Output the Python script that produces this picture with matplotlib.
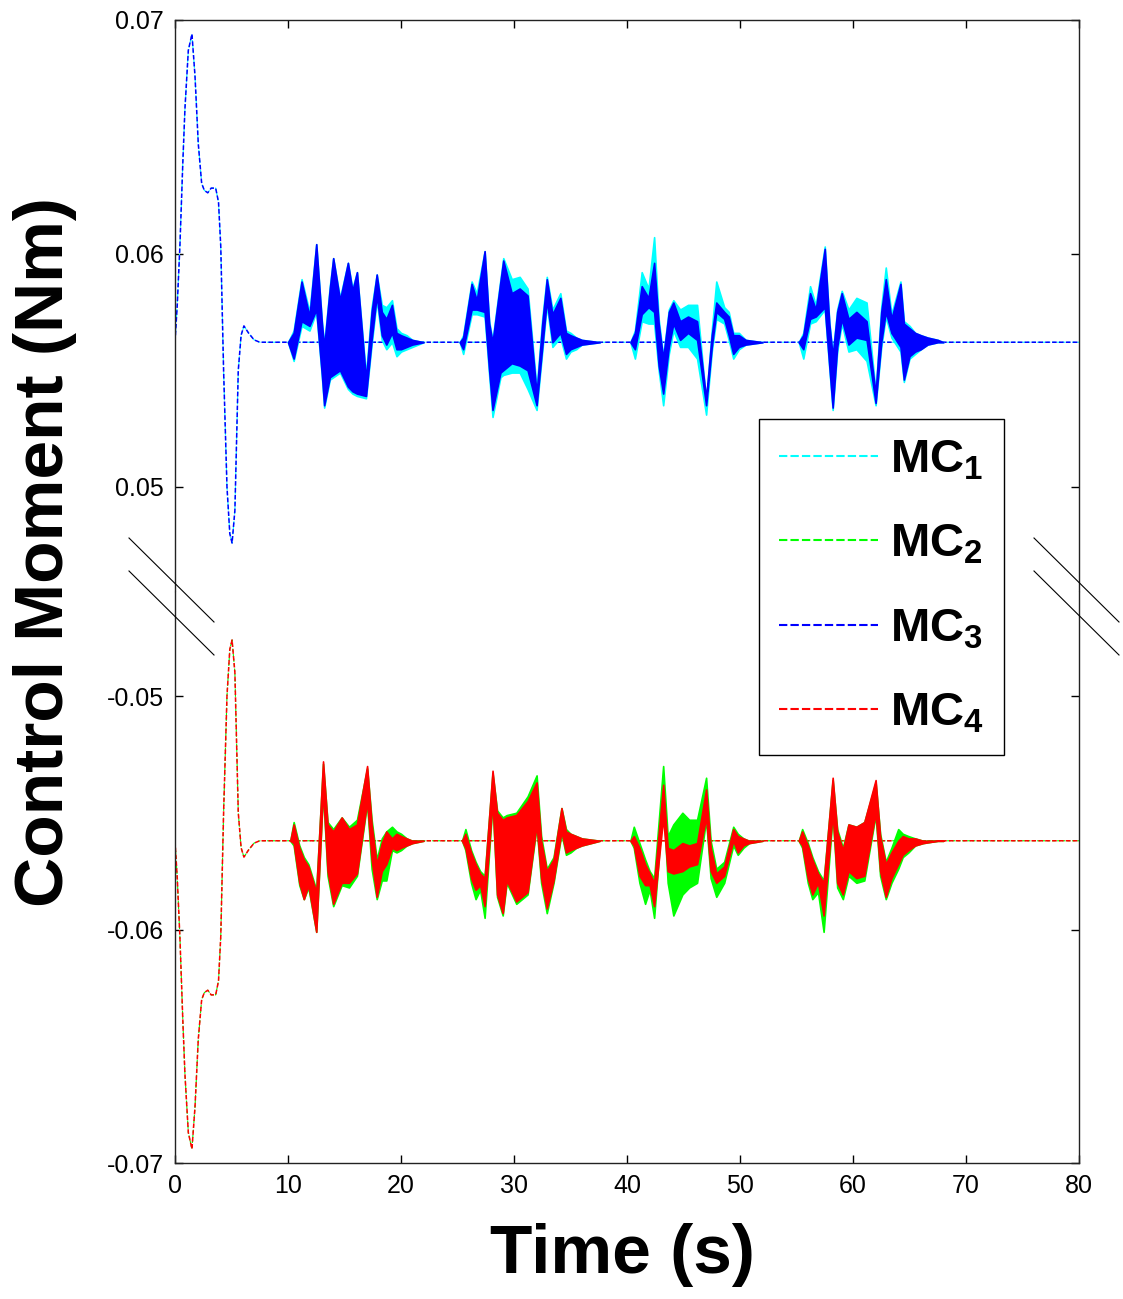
import matplotlib.pyplot as plt
from matplotlib.lines import Line2D
from matplotlib.ticker import FormatStrFormatter

plt.rcParams['font.family'] = ['Liberation Sans', 'DejaVu Sans']
plt.rcParams['mathtext.fontset'] = 'custom'
plt.rcParams['mathtext.rm'] = 'Liberation Sans:bold'
plt.rcParams['mathtext.bf'] = 'Liberation Sans:bold'
plt.rcParams['mathtext.it'] = 'Liberation Sans:bold'

# ---------------- data ----------------
labels = ['MC$_1$', 'MC$_2$', 'MC$_3$', 'MC$_4$']
colors = ['#00FFFF', '#00FF00', '#0000FF', '#FF0000']

# start-up transient (0-10 s) then steady tail to 80 s
t_init = [0, 0.2, 0.44, 0.7, 0.88, 1.18, 1.5, 1.77, 2.06, 2.36, 2.6, 2.9, 3.2, 3.6,
          3.85, 4.05, 4.3, 4.6, 4.85, 5.05, 5.3, 5.6, 5.85, 6.1, 6.5, 7.0, 7.5, 10.0, 80.0]
top_init = [0.0562, 0.0578, 0.0604, 0.0640, 0.0662, 0.0687, 0.0694, 0.0676, 0.0647, 0.0630,
            0.0627, 0.0626, 0.0628, 0.0628, 0.0622, 0.0603, 0.0550, 0.0500, 0.0480, 0.0476,
            0.0490, 0.0550, 0.0565, 0.0569, 0.0566, 0.0563, 0.0562, 0.0562, 0.0562]
bot_init = [-0.0562, -0.0578, -0.0604, -0.0640, -0.0662, -0.0687, -0.0694, -0.0676, -0.0647, -0.0630,
            -0.0627, -0.0626, -0.0628, -0.0628, -0.0622, -0.0603, -0.0550, -0.0500, -0.0480, -0.0476,
            -0.0490, -0.0550, -0.0565, -0.0569, -0.0566, -0.0563, -0.0562, -0.0562, -0.0562]

# envelopes of the fast oscillation during the four manoeuvres (top panel: MC1 / MC3)
top_t = [
    [10.0, 10.5, 11.2, 11.9, 12.5, 13.0, 13.2, 13.7, 14.0, 14.6, 15.3, 15.7, 16.1, 16.9, 17.4, 17.85,
     18.3, 18.7, 19.2, 19.6, 20.0, 20.5, 21.0, 22.0],
    [25.2, 25.5, 26.25, 26.7, 27.4, 27.8, 28.1, 28.8, 29.05, 29.8, 30.5, 31.2, 32.0, 32.5, 32.9, 33.4,
     34.1, 34.6, 35.0, 35.5, 36.0, 37.6],
    [40.3, 40.7, 41.3, 41.9, 42.4, 42.8, 43.2, 43.7, 44.1, 44.7, 45.4, 46.2, 47.0, 47.5, 47.9, 48.6,
     49.0, 49.4, 49.9, 50.5, 52.0],
    [55.2, 55.6, 56.2, 56.7, 57.5, 57.9, 58.2, 58.6, 59.0, 59.6, 60.3, 61.2, 62.0, 62.5, 62.9, 63.4,
     64.2, 64.5, 65.0, 65.5, 66.0, 66.6, 67.5, 68.0],
]
mc3_hi = [
    [0.0562, 0.0566, 0.0588, 0.0573, 0.0604, 0.0570, 0.0560, 0.0585, 0.0598, 0.0580, 0.0596, 0.0584,
     0.0592, 0.0546, 0.0575, 0.0591, 0.0575, 0.0572, 0.0578, 0.0566, 0.0565, 0.0564, 0.0563, 0.0562],
    [0.0562, 0.0564, 0.0587, 0.0580, 0.0601, 0.0570, 0.0562, 0.0588, 0.0597, 0.0583, 0.0585, 0.0582,
     0.0540, 0.0570, 0.0589, 0.0574, 0.0581, 0.0566, 0.0565, 0.0564, 0.0563, 0.0562],
    [0.0562, 0.0566, 0.0586, 0.0581, 0.0596, 0.0570, 0.0555, 0.0575, 0.0579, 0.0571, 0.0573, 0.0571,
     0.0538, 0.0565, 0.0579, 0.0575, 0.0573, 0.0565, 0.0565, 0.0563, 0.0562],
    [0.0562, 0.0565, 0.0583, 0.0576, 0.0602, 0.0570, 0.0556, 0.0575, 0.0583, 0.0572, 0.0575, 0.0571,
     0.0540, 0.0575, 0.0589, 0.0572, 0.0587, 0.0570, 0.0568, 0.0566, 0.0565, 0.0564, 0.0563, 0.0562],
]
mc3_lo = [
    [0.0562, 0.0555, 0.0571, 0.0569, 0.0576, 0.0548, 0.0535, 0.0547, 0.0548, 0.0550, 0.0543, 0.0541,
     0.0540, 0.0539, 0.0563, 0.0582, 0.0565, 0.0561, 0.0566, 0.0559, 0.0559, 0.0560, 0.0561, 0.0562],
    [0.0562, 0.0559, 0.0576, 0.0576, 0.0575, 0.0550, 0.0533, 0.0549, 0.0550, 0.0553, 0.0552, 0.0550,
     0.0535, 0.0560, 0.0580, 0.0562, 0.0566, 0.0557, 0.0559, 0.0560, 0.0561, 0.0562],
    [0.0562, 0.0559, 0.0574, 0.0577, 0.0575, 0.0552, 0.0540, 0.0560, 0.0570, 0.0563, 0.0566, 0.0563,
     0.0535, 0.0560, 0.0575, 0.0572, 0.0565, 0.0557, 0.0560, 0.0561, 0.0562],
    [0.0562, 0.0559, 0.0572, 0.0573, 0.0577, 0.0552, 0.0534, 0.0560, 0.0572, 0.0561, 0.0564, 0.0563,
     0.0536, 0.0562, 0.0575, 0.0566, 0.0560, 0.0546, 0.0556, 0.0558, 0.0559, 0.0561, 0.0562, 0.0562],
]
mc1_hi = [
    [0.0562, 0.0567, 0.0589, 0.0575, 0.0604, 0.0571, 0.0561, 0.0586, 0.0598, 0.0581, 0.0596, 0.0585,
     0.0592, 0.0548, 0.0577, 0.0591, 0.0578, 0.0577, 0.0580, 0.0568, 0.0566, 0.0565, 0.0563, 0.0562],
    [0.0562, 0.0565, 0.0588, 0.0583, 0.0601, 0.0571, 0.0563, 0.0589, 0.0598, 0.0589, 0.0590, 0.0585,
     0.0542, 0.0572, 0.0590, 0.0576, 0.0583, 0.0567, 0.0566, 0.0564, 0.0563, 0.0562],
    [0.0562, 0.0567, 0.0592, 0.0585, 0.0607, 0.0572, 0.0556, 0.0576, 0.0580, 0.0576, 0.0578, 0.0578,
     0.0537, 0.0567, 0.0588, 0.0577, 0.0575, 0.0566, 0.0566, 0.0563, 0.0562],
    [0.0562, 0.0566, 0.0586, 0.0578, 0.0603, 0.0571, 0.0557, 0.0576, 0.0584, 0.0576, 0.0581, 0.0579,
     0.0541, 0.0577, 0.0594, 0.0574, 0.0588, 0.0571, 0.0569, 0.0566, 0.0565, 0.0564, 0.0563, 0.0562],
]
mc1_lo = [
    [0.0562, 0.0554, 0.0569, 0.0567, 0.0575, 0.0547, 0.0534, 0.0546, 0.0547, 0.0549, 0.0542, 0.0540,
     0.0539, 0.0538, 0.0561, 0.0580, 0.0563, 0.0559, 0.0562, 0.0556, 0.0558, 0.0559, 0.0560, 0.0562],
    [0.0562, 0.0557, 0.0574, 0.0574, 0.0573, 0.0548, 0.0530, 0.0547, 0.0548, 0.0549, 0.0549, 0.0542,
     0.0533, 0.0558, 0.0578, 0.0560, 0.0564, 0.0555, 0.0558, 0.0559, 0.0561, 0.0562],
    [0.0562, 0.0555, 0.0571, 0.0570, 0.0570, 0.0550, 0.0535, 0.0557, 0.0567, 0.0560, 0.0560, 0.0555,
     0.0531, 0.0558, 0.0572, 0.0570, 0.0563, 0.0555, 0.0559, 0.0561, 0.0562],
    [0.0562, 0.0555, 0.0570, 0.0571, 0.0576, 0.0551, 0.0533, 0.0558, 0.0570, 0.0558, 0.0559, 0.0554,
     0.0535, 0.0560, 0.0573, 0.0564, 0.0558, 0.0545, 0.0555, 0.0557, 0.0559, 0.0561, 0.0562, 0.0562],
]

# bottom panel: MC2 / MC4
bot_t = [
    [10.2, 10.5, 11.0, 11.4, 11.8, 12.5, 13.1, 13.5, 14.0, 14.75, 15.4, 16.1, 17.0, 17.4, 17.85, 18.3,
     18.7, 19.2, 19.6, 20.0, 20.5, 21.0, 22.0],
    [25.4, 25.7, 26.2, 26.6, 27.0, 27.4, 28.1, 28.5, 29.0, 29.35, 30.2, 31.2, 32.0, 32.4, 32.9, 33.5,
     34.2, 34.6, 35.0, 35.5, 36.0, 37.6],
    [40.3, 40.6, 41.1, 41.6, 42.0, 42.4, 43.2, 43.6, 44.1, 44.9, 45.5, 46.2, 47.0, 47.4, 47.9, 48.6,
     49.4, 49.8, 50.3, 50.8, 52.0],
    [55.2, 55.5, 56.0, 56.4, 56.9, 57.4, 58.2, 58.6, 59.1, 59.6, 60.3, 61.0, 62.0, 62.4, 62.9, 63.4,
     64.0, 64.4, 64.9, 65.5, 66.2, 67.5, 68.0],
]
mc4_hi = [
    [-0.0562, -0.0555, -0.0565, -0.0570, -0.0573, -0.0584, -0.0528, -0.0555, -0.0558, -0.0552, -0.0557,
     -0.0555, -0.0530, -0.0555, -0.0572, -0.0563, -0.0558, -0.0561, -0.0559, -0.0560, -0.0561, -0.0562, -0.0562],
    [-0.0562, -0.0559, -0.0567, -0.0572, -0.0576, -0.0578, -0.0532, -0.0550, -0.0553, -0.0552, -0.0551,
     -0.0545, -0.0537, -0.0562, -0.0575, -0.0570, -0.0548, -0.0558, -0.0559, -0.0560, -0.0561, -0.0562],
    [-0.0562, -0.0560, -0.0565, -0.0572, -0.0576, -0.0580, -0.0538, -0.0565, -0.0566, -0.0563, -0.0564,
     -0.0563, -0.0540, -0.0565, -0.0576, -0.0573, -0.0557, -0.0560, -0.0561, -0.0562, -0.0562],
    [-0.0562, -0.0558, -0.0564, -0.0570, -0.0576, -0.0580, -0.0535, -0.0558, -0.0566, -0.0555, -0.0556,
     -0.0554, -0.0536, -0.0560, -0.0572, -0.0567, -0.0562, -0.0560, -0.0561, -0.0561, -0.0562, -0.0562, -0.0562],
]
mc4_lo = [
    [-0.0562, -0.0563, -0.0580, -0.0587, -0.0581, -0.0601, -0.0540, -0.0575, -0.0589, -0.0580, -0.0580,
     -0.0576, -0.0545, -0.0570, -0.0586, -0.0575, -0.0572, -0.0565, -0.0566, -0.0565, -0.0564, -0.0563, -0.0562],
    [-0.0562, -0.0565, -0.0578, -0.0583, -0.0581, -0.0590, -0.0545, -0.0585, -0.0593, -0.0579, -0.0588,
     -0.0584, -0.0555, -0.0578, -0.0591, -0.0579, -0.0558, -0.0567, -0.0566, -0.0565, -0.0564, -0.0562],
    [-0.0562, -0.0564, -0.0577, -0.0581, -0.0581, -0.0590, -0.0552, -0.0575, -0.0576, -0.0575, -0.0573,
     -0.0572, -0.0552, -0.0575, -0.0580, -0.0577, -0.0562, -0.0567, -0.0564, -0.0563, -0.0562],
    [-0.0562, -0.0564, -0.0578, -0.0585, -0.0580, -0.0594, -0.0550, -0.0580, -0.0585, -0.0575, -0.0578,
     -0.0577, -0.0550, -0.0575, -0.0586, -0.0578, -0.0572, -0.0568, -0.0566, -0.0564, -0.0563, -0.0562, -0.0562],
]
mc2_hi = [
    [-0.0562, -0.0554, -0.0564, -0.0569, -0.0572, -0.0583, -0.0529, -0.0554, -0.0557, -0.0552, -0.0556,
     -0.0553, -0.0531, -0.0553, -0.0570, -0.0561, -0.0558, -0.0556, -0.0558, -0.0559, -0.0561, -0.0562, -0.0562],
    [-0.0562, -0.0557, -0.0566, -0.0571, -0.0575, -0.0577, -0.0533, -0.0549, -0.0552, -0.0551, -0.0550,
     -0.0543, -0.0534, -0.0560, -0.0574, -0.0569, -0.0548, -0.0557, -0.0559, -0.0560, -0.0561, -0.0562],
    [-0.0562, -0.0556, -0.0563, -0.0570, -0.0575, -0.0578, -0.0530, -0.0560, -0.0555, -0.0550, -0.0553,
     -0.0553, -0.0535, -0.0562, -0.0574, -0.0571, -0.0556, -0.0559, -0.0561, -0.0562, -0.0562],
    [-0.0562, -0.0557, -0.0563, -0.0569, -0.0575, -0.0579, -0.0536, -0.0557, -0.0565, -0.0555, -0.0556,
     -0.0554, -0.0537, -0.0559, -0.0571, -0.0565, -0.0557, -0.0559, -0.0560, -0.0561, -0.0562, -0.0562, -0.0562],
]
mc2_lo = [
    [-0.0562, -0.0564, -0.0581, -0.0587, -0.0582, -0.0601, -0.0541, -0.0577, -0.0590, -0.0581, -0.0582,
     -0.0577, -0.0546, -0.0574, -0.0587, -0.0579, -0.0579, -0.0566, -0.0567, -0.0566, -0.0564, -0.0563, -0.0562],
    [-0.0562, -0.0566, -0.0580, -0.0587, -0.0583, -0.0595, -0.0546, -0.0586, -0.0594, -0.0580, -0.0589,
     -0.0585, -0.0556, -0.0580, -0.0593, -0.0580, -0.0559, -0.0568, -0.0567, -0.0565, -0.0564, -0.0562],
    [-0.0562, -0.0565, -0.0580, -0.0589, -0.0583, -0.0595, -0.0545, -0.0580, -0.0594, -0.0585, -0.0582,
     -0.0580, -0.0553, -0.0578, -0.0586, -0.0580, -0.0564, -0.0568, -0.0565, -0.0563, -0.0562],
    [-0.0562, -0.0565, -0.0580, -0.0587, -0.0584, -0.0601, -0.0551, -0.0582, -0.0587, -0.0577, -0.0580,
     -0.0579, -0.0551, -0.0577, -0.0587, -0.0580, -0.0574, -0.0569, -0.0567, -0.0564, -0.0563, -0.0562, -0.0562],
]

x_ticks = [0, 10, 20, 30, 40, 50, 60, 70, 80]
top_ticks = [0.05, 0.06, 0.07]
bot_ticks = [-0.07, -0.06, -0.05]

# ---------------- figure ----------------
W, H = 1123, 1299
fig = plt.figure(figsize=(W / 100, H / 100), dpi=100)


def fx(px):
    return px / W


def fy(py):
    return 1 - py / H


left, right, top, mid, bottom = 175, 1079, 20, 591.5, 1163
span = (mid - top) / 23350.0  # 233.5 px per 0.01 Nm

ax_top = fig.add_axes([fx(left), fy(mid), fx(right - left), (mid - top) / H])
ax_bot = fig.add_axes([fx(left), fy(bottom), fx(right - left), (bottom - mid) / H])

dash = (0, (3, 1.5))

# transient lines (MC1/MC2 hidden under MC3/MC4)
ax_top.plot(t_init, top_init, color=colors[0], lw=0.8, ls=dash, zorder=2)
ax_top.plot(t_init, top_init, color=colors[2], lw=1.1, ls=dash, zorder=2)
ax_bot.plot(t_init, bot_init, color=colors[1], lw=0.8, ls=dash, zorder=2)
ax_bot.plot(t_init, bot_init, color=colors[3], lw=1.1, ls=dash, zorder=2)

# oscillating bursts
for k in range(4):
    ax_top.fill_between(top_t[k], mc1_lo[k], mc1_hi[k], color=colors[0], lw=1.2, zorder=3)
    ax_top.fill_between(top_t[k], mc3_lo[k], mc3_hi[k], color=colors[2], lw=1.2, zorder=4)
    ax_bot.fill_between(bot_t[k], mc2_lo[k], mc2_hi[k], color=colors[1], lw=1.2, zorder=3)
    ax_bot.fill_between(bot_t[k], mc4_lo[k], mc4_hi[k], color=colors[3], lw=1.2, zorder=4)

ax_top.set_ylim(0.07 - span, 0.07)
ax_bot.set_ylim(-0.07, -0.07 + span)
for ax in (ax_top, ax_bot):
    ax.set_xlim(0, 80)
    ax.set_xticks(x_ticks)
    for s in ax.spines.values():
        s.set_linewidth(1.0)
        s.set_color('#222222')
    ax.tick_params(direction='in', length=6, width=1, labelsize=18, pad=8,
                   left=True, right=True)
    ax.yaxis.set_major_formatter(FormatStrFormatter('%.2f'))

ax_top.set_yticks(top_ticks)
ax_bot.set_yticks(bot_ticks)
ax_top.spines['bottom'].set_visible(False)
ax_bot.spines['top'].set_visible(False)
ax_top.tick_params(axis='x', bottom=False, top=True, labelbottom=False)
ax_bot.tick_params(axis='x', bottom=True, top=False)

# break marks on the y axes
for x0 in (129, 1034):
    for y0 in (538, 571):
        fig.add_artist(Line2D([fx(x0), fx(x0 + 85)], [fy(y0), fy(y0 + 84)],
                              transform=fig.transFigure, color='k', lw=0.8))

# labels
fig.text(fx(45), fy(552), 'Control Moment (Nm)', rotation=90, ha='center', va='center',
         fontsize=50, fontweight='bold')
fig.text(fx(622), fy(1255), 'Time (s)', ha='center', va='center',
         fontsize=50, fontweight='bold')

# legend
handles = [Line2D([], [], color=c, lw=1.5, ls=(0, (4, 1.5))) for c in colors]
leg = fig.legend(handles, labels, loc='upper left', bbox_to_anchor=(fx(759), fy(419)),
                 bbox_transform=fig.transFigure, borderaxespad=0,
                 prop={'size': 34, 'weight': 'bold'},
                 handlelength=2.1, handletextpad=0.25, labelspacing=0.85, borderpad=0.42,
                 fancybox=False, framealpha=1, edgecolor='k')
leg.get_frame().set_linewidth(1.0)

fig.savefig('out.png', dpi=100)
